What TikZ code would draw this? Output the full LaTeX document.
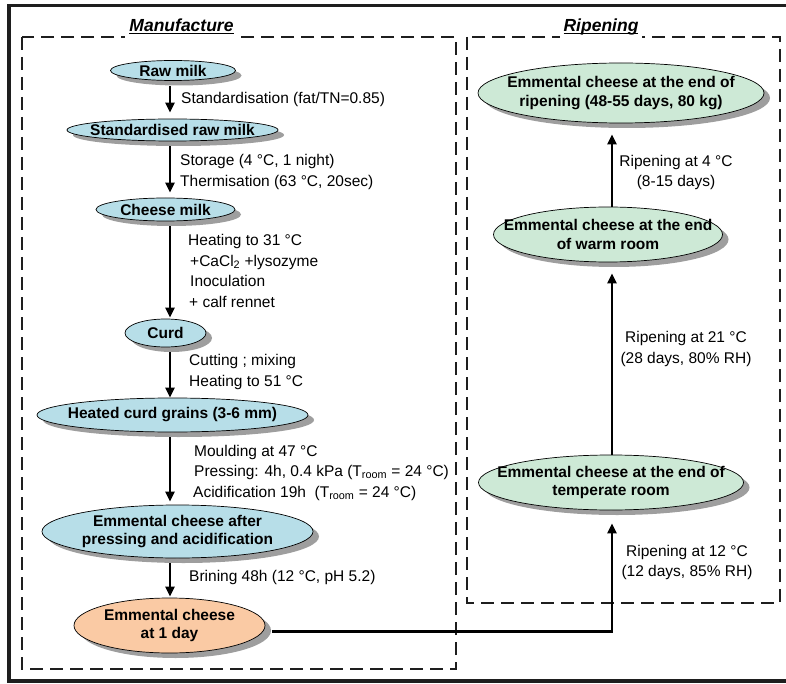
\documentclass[tikz,border=0pt]{standalone}
\usepackage{fontspec}
\setmainfont{Liberation Sans}
\usetikzlibrary{arrows.meta,shapes.geometric,shadows}
\definecolor{cblue}{RGB}{183,222,232}
\definecolor{cgreen}{RGB}{205,233,214}
\definecolor{corange}{RGB}{250,202,164}
\definecolor{cshade}{RGB}{158,158,158}
\definecolor{cframe}{RGB}{30,30,30}
\newcommand\myul[1]{\setbox0\hbox{#1}\rlap{\rule[-2.5pt]{\wd0}{1.3pt}}\box0}
\newcommand\stage[6]{%
  \node[stage,fill=#5,minimum width=#3pt,minimum height=#4pt] (#1) at (#2) {};
  \node[stagetext] (#1-t) at (#1) {#6};}
\begin{document}
\begin{tikzpicture}[x=1pt,y=-1pt,
  stage/.style={ellipse,draw=black,line width=0.7pt,inner sep=0pt,
    general shadow={fill=cshade,shadow xshift=6pt,shadow yshift=-5pt}},
  stagetext/.style={align=center,inner sep=0pt,font=\fontsize{15.5}{18.5}\selectfont\bfseries},
  lbl/.style={align=left,inner sep=0pt,anchor=west,font=\fontsize{15.5}{20.5}\selectfont},
  rlbl/.style={align=center,inner sep=0pt,font=\fontsize{15.5}{20.5}\selectfont},
  arr/.style={line width=2.6pt,-{Triangle[length=10pt,width=9pt]}},
  zone/.style={draw=cframe,line width=2pt,dash pattern=on 13pt off 7pt},
  ztitle/.style={fill=white,anchor=base,inner xsep=4pt,inner ysep=0pt,text depth=7pt,
    font=\fontsize{17.5}{20}\selectfont\bfseries\itshape},
]
\useasboundingbox (0,0) rectangle (786,684);
\draw[cframe,line width=3.5pt] (786,5.5) -- (9,5.5) -- (9,681) -- (786,681);
\draw[zone] (22,37) rectangle (456,669);
\draw[zone] (467,37) rectangle (780,603);
\node[ztitle] (tman) at (181.5,32) {\myul{Manufacture}};
\node[ztitle] (trip) at (601,32) {\myul{Ripening}};

\stage{raw}{173,70.5}{125}{20}{cblue}{Raw milk}
\stage{std}{172.5,130}{211}{22}{cblue}{Standardised raw milk}
\stage{chm}{165.5,209.5}{139}{23}{cblue}{Cheese milk}
\stage{curd}{165.5,333}{81}{28}{cblue}{Curd}
\stage{heat}{172.5,415}{271}{34}{cblue}{Heated curd grains (3-6 mm)}
\stage{press}{177.5,531.5}{271}{53}{cblue}{Emmental cheese after\\pressing and acidification}
\stage{day1}{169.5,625.5}{191}{55}{corange}{Emmental cheese\\at 1 day}
\stage{ripe}{621,93}{286}{60}{cgreen}{Emmental cheese at the end of\\ripening (48-55 days, 80 kg)}
\stage{warm}{608,234.5}{229}{55}{cgreen}{Emmental cheese at the end\\of warm room}
\stage{temp}{611,482.5}{265}{55}{cgreen}{Emmental cheese at the end of\\temperate room}

\coordinate (lx) at (170,0);
\coordinate (rx) at (612,0);
\draw[arr,shorten <=5pt,shorten >=6pt] (raw.south -| lx) -- (std.north -| lx);
\draw[arr,shorten <=5pt,shorten >=5pt] (std.south -| lx) -- (chm.north -| lx);
\draw[arr,shorten <=5pt,shorten >=1pt] (chm.south -| lx) -- (curd.north -| lx);
\draw[arr,shorten <=5pt] (curd.south -| lx) -- (heat.north -| lx);
\draw[arr,shorten <=5pt,shorten >=3pt] (heat.south -| lx) -- (press.north -| lx);
\draw[arr,shorten <=5pt,shorten >=1pt] (press.south -| lx) -- (day1.north -| lx);
\draw[arr,shorten >=11pt] (temp.north -| rx) -- (warm.south -| rx);
\draw[arr,shorten >=11pt] (warm.north -| rx) -- (ripe.south -| rx);
\draw[arr,shorten >=13pt] ([shift={(7,6)}]day1.east) -| (temp.south -| rx);

\node[lbl] (l1) at (181,99) {Standardisation (fat/TN=0.85)};
\node[lbl] (l2) at (180,172) {Storage (4 °C, 1 night)\\Thermisation (63 °C, 20sec)};
\node[lbl] (l3) at (188,271) {Heating to 31 °C\\\hspace*{2pt}+CaCl\textsubscript{2} +lysozyme\\\hspace*{2pt}Inoculation\\\hspace*{1pt}+ calf rennet};
\node[lbl] (l4) at (189,372) {Cutting ; mixing\\Heating to 51 °C};
\node[lbl] (l5) at (193,472.5) {\hspace*{1pt}Moulding at 47 °C\\\hspace*{1pt}Pressing: 4h, 0.4 kPa (T\textsubscript{room} = 24 °C)\\Acidification 19h\ \ (T\textsubscript{room} = 24 °C)};
\node[lbl] (l6) at (189,577) {Brining 48h (12 °C, pH 5.2)};
\node[rlbl] (r1) at (676,172.5) {Ripening at 4 °C\\(8-15 days)};
\node[rlbl] (r2) at (686,349) {Ripening at 21 °C\\(28 days, 80\% RH)};
\node[rlbl] (r3) at (687,562.5) {Ripening at 12 °C\\(12 days, 85\% RH)};
\end{tikzpicture}
\end{document}
